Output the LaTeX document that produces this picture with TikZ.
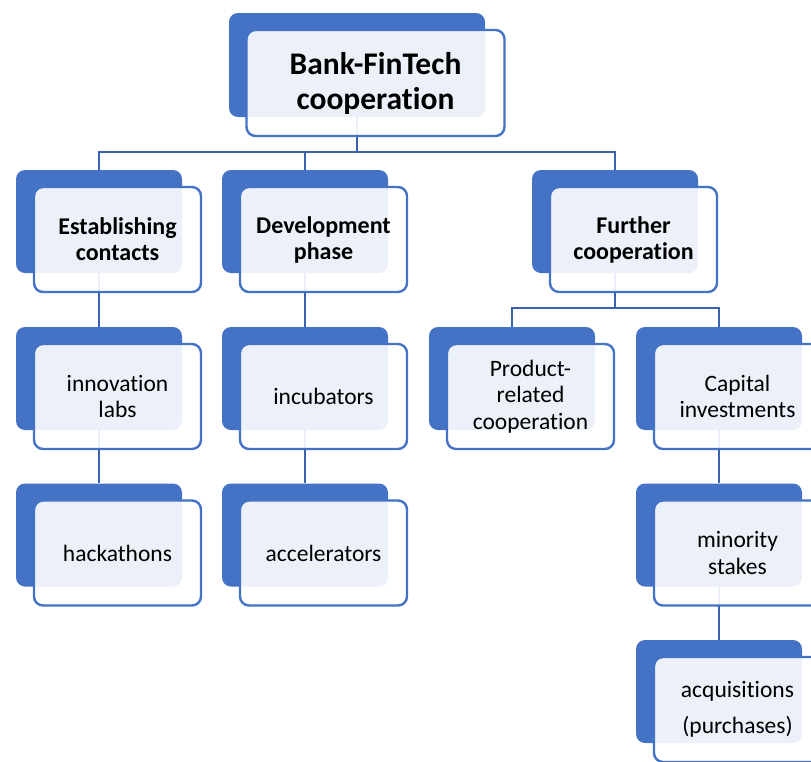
\documentclass[tikz,border=0pt]{standalone}
\usepackage{fontspec}
\setmainfont{Carlito}[Ligatures={NoCommon}]
\usepackage{tikz}
\usetikzlibrary{backgrounds}
\definecolor{boxblue}{HTML}{4472C4}
\definecolor{linkblue}{HTML}{3A63AE}

\begin{document}
\begin{tikzpicture}[x=1pt,y=-1pt]
      \useasboundingbox (0,0) rectangle (811,761);
      \clip (0,0) rectangle (811,761);
      \tikzset{B/.style = {shape=rectangle, rounded corners=9pt, fill=boxblue, minimum width=166pt, minimum height=103pt, inner sep=0pt}}
      \tikzset{F/.style = {shape=rectangle, rounded corners=9pt, draw=boxblue, line width=2.4pt, fill=white, fill opacity=0.9, text opacity=1, text=black, minimum width=167pt, minimum height=105pt, inner sep=0pt, align=center, font=\fontsize{23.5}{26.5}\selectfont, xshift=18.5pt, yshift=-18pt}}
      \tikzset{FB/.style = {F, font=\fontsize{24}{26}\selectfont\bfseries}}
      \tikzset{E/.style = {draw=linkblue, line width=2.5pt}}
      % top
      \node[B, minimum width=256pt, minimum height=104pt](bankB) at (357,65) {};
      \node[F, minimum width=258pt, minimum height=106pt, font=\fontsize{31.5}{35}\selectfont\bfseries](bank) at (bankB) {Bank-FinTech\\cooperation};
      % level 1
      \node[B](estB) at (99,221.5) {};
      \node[FB](est) at (estB) {Establishing\\contacts};
      \node[B](devB) at (305,221.5) {};
      \node[FB](dev) at (devB) {Development\\phase};
      \node[B](furB) at (615,221.5) {};
      \node[FB](fur) at (furB) {Further\\cooperation};
      % level 2
      \node[B](innB) at (99,378.5) {};
      \node[F](inn) at (innB) {innovation\\labs};
      \node[B](hackB) at (99,535) {};
      \node[F](hack) at (hackB) {hackathons};
      \node[B](incB) at (305,378.5) {};
      \node[F](inc) at (incB) {incubators};
      \node[B](accB) at (305,535) {};
      \node[F](acc) at (accB) {accelerators};
      \node[B](prodB) at (512,378.5) {};
      \node[F](prod) at (prodB) {Product-\\related\\cooperation};
      \node[B](capB) at (719,378.5) {};
      \node[F](cap) at (capB) {Capital\\investments};
      \node[B](minB) at (719,535) {};
      \node[F](min) at (minB) {minority\\stakes};
      \node[B](acqB) at (719,691.5) {};
      \node[F](acq) at (acqB) {acquisitions\\[9.5pt](purchases)};
      % connectors
      \begin{scope}[on background layer]
        \draw[E](bankB.south) -- ++(0,35) -| (estB.north);
        \draw[E](bankB.south) -- ++(0,35) -| (devB.north);
        \draw[E](bankB.south) -- ++(0,35) -| (furB.north);
        \draw[E](estB.south) -- (innB.north);
        \draw[E](innB.south) -- (hackB.north);
        \draw[E](devB.south) -- (incB.north);
        \draw[E](incB.south) -- (accB.north);
        \draw[E](furB.south) -- ++(0,35) -| (prodB.north);
        \draw[E](furB.south) -- ++(0,35) -| (capB.north);
        \draw[E](capB.south) -- (minB.north);
        \draw[E](minB.south) -- (acqB.north);
      \end{scope}
\end{tikzpicture}
\end{document}
